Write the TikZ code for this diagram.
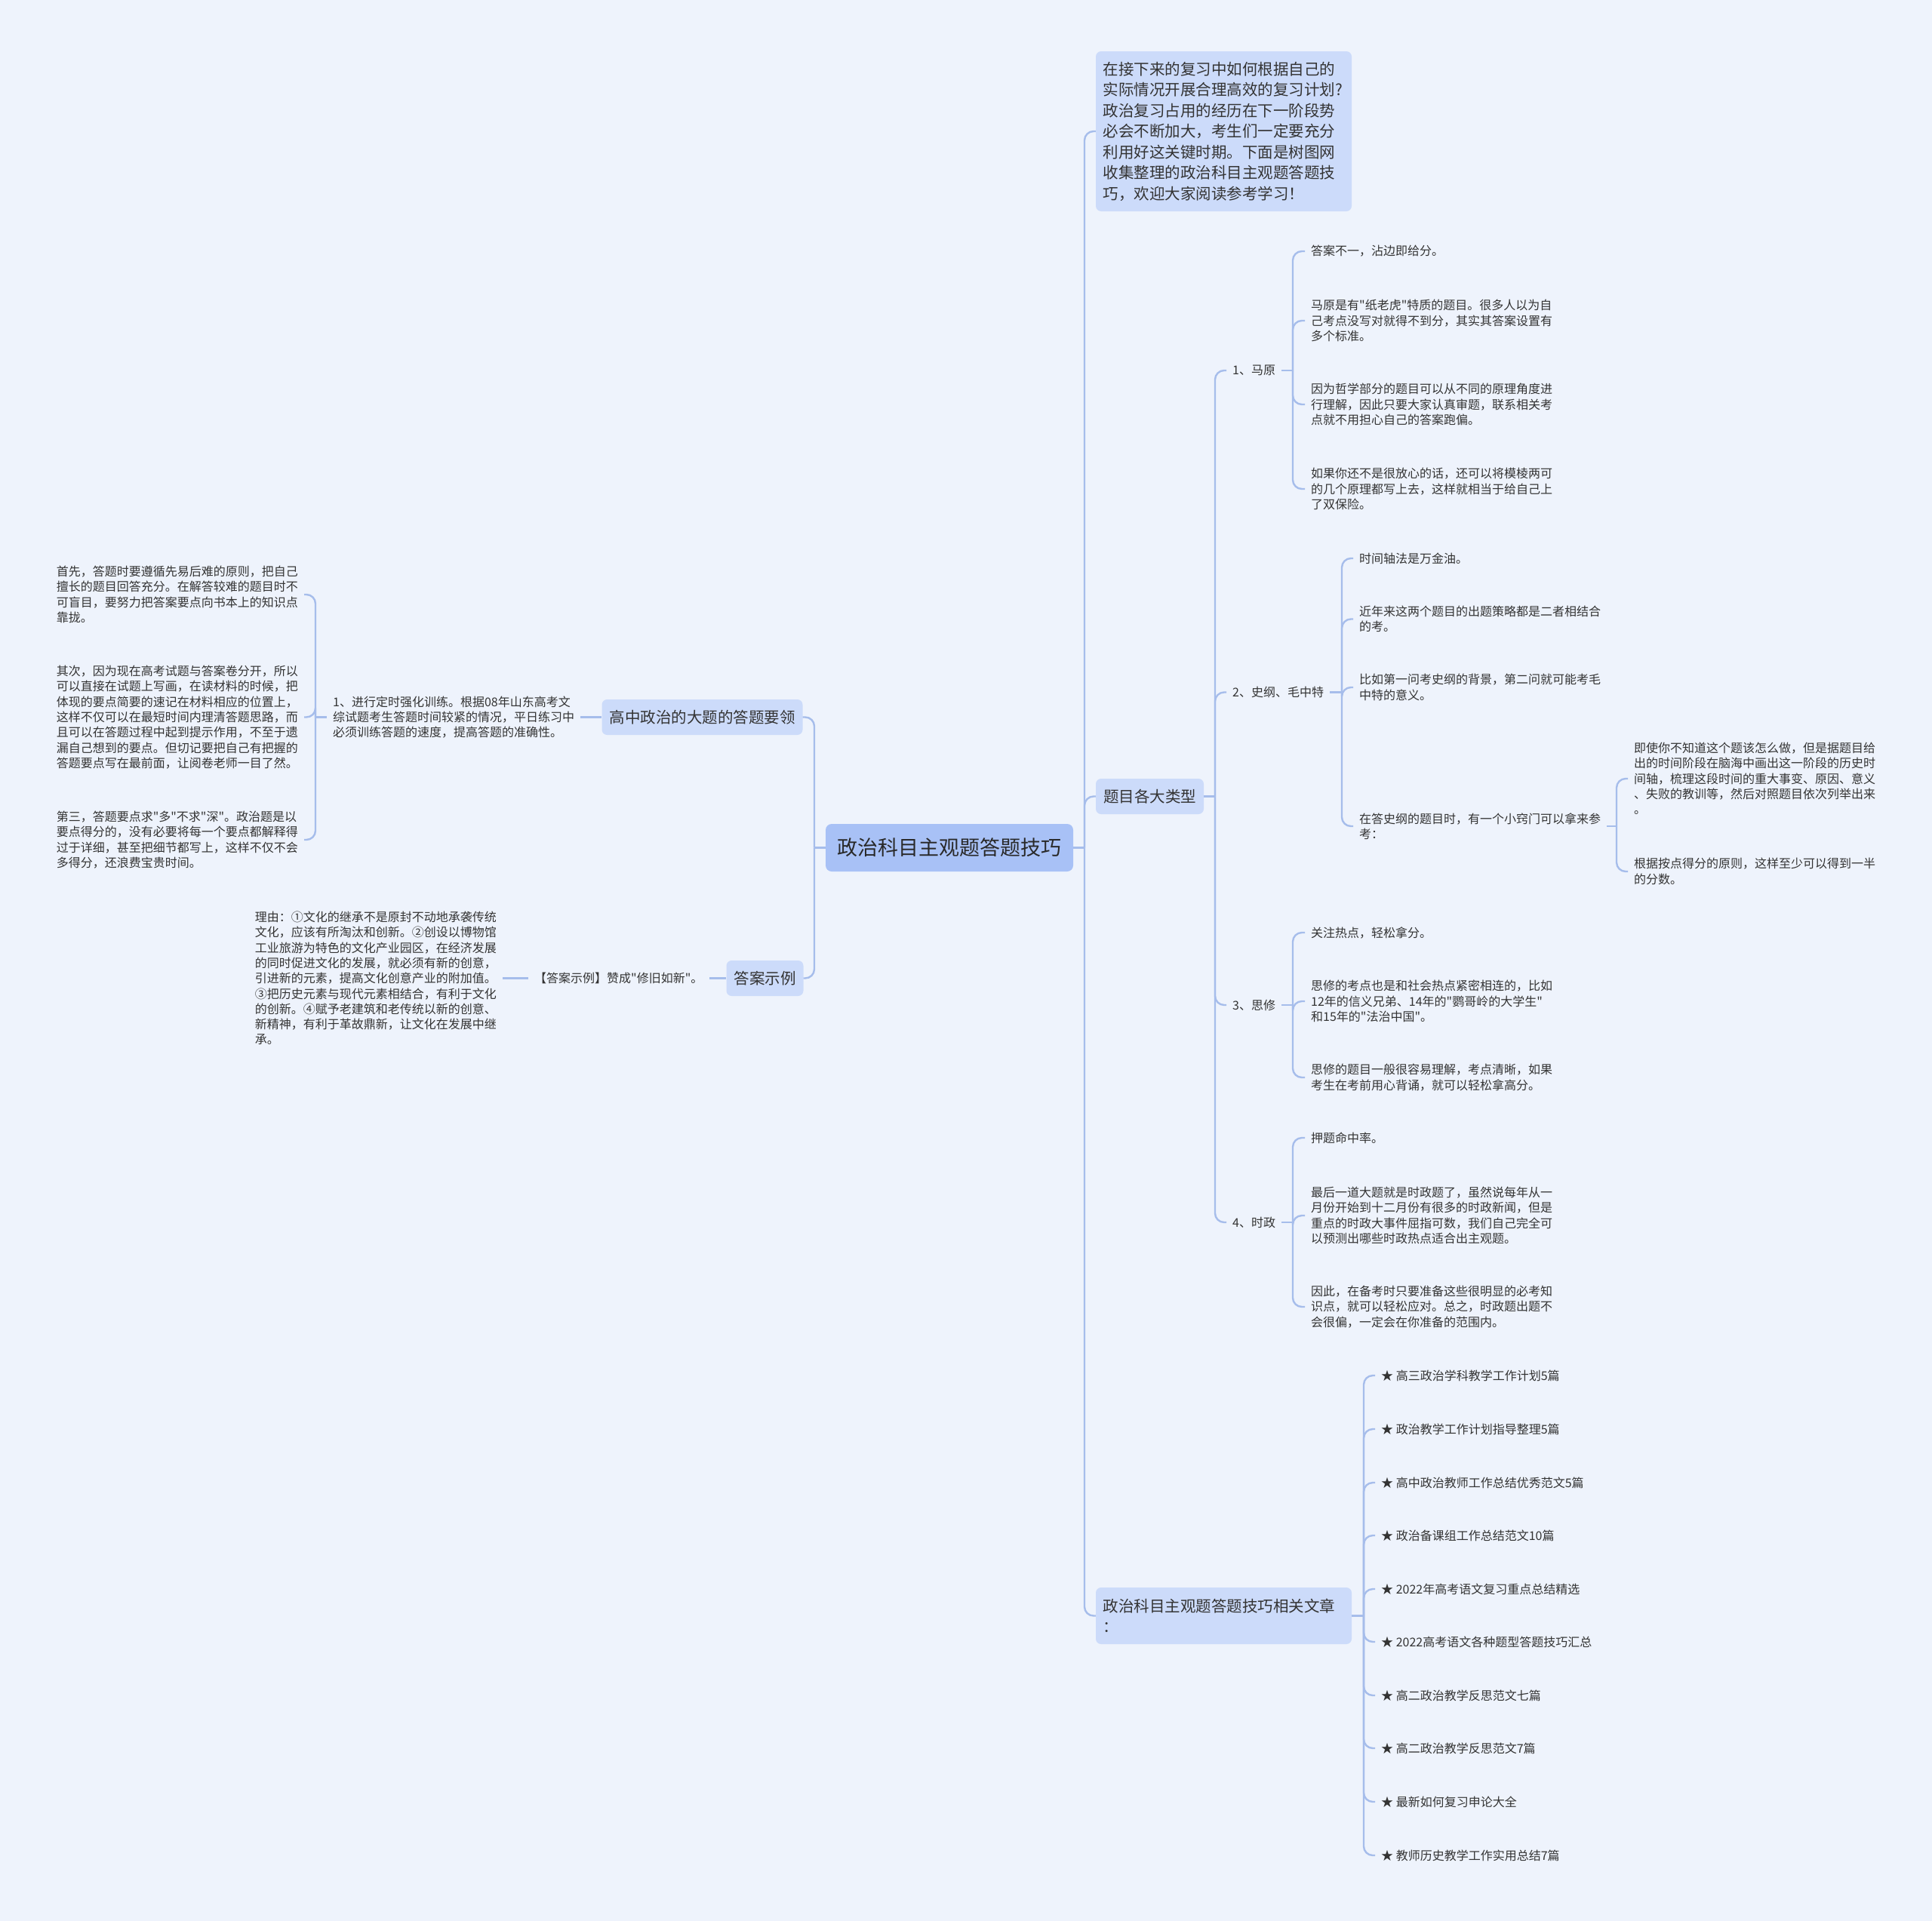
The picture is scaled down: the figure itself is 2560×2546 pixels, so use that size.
\documentclass[tikz,border=0pt]{standalone}
\usepackage{fontspec}
\setmainfont{Noto Sans CJK SC}[Ligatures=TeXOff]
\definecolor{bgc}{HTML}{EEF3FC}
\definecolor{rootc}{HTML}{A8C1F6}
\definecolor{lvc}{HTML}{CCDBFA}
\definecolor{linec}{HTML}{A6BDEB}
\definecolor{textc}{HTML}{333333}
\newcommand\fsS{\fontsize{16pt}{20.3pt}\selectfont}
\newcommand\fsM{\fontsize{20.5pt}{27.5pt}\selectfont}
\newcommand\fsL{\fontsize{27pt}{32pt}\selectfont}
\begin{document}
\begin{tikzpicture}[x=1pt,y=-1pt,
  conn/.style={draw=linec,line width=2.4pt,rounded corners=12pt},
  txt/.style={align=left,inner xsep=8pt,inner ysep=2pt,font=\fsS,text=textc},
  rtxt/.style={txt,anchor=west},
  ltxt/.style={txt,anchor=east},
  lvlbox/.style={fill=lvc,rounded corners=7pt,font=\fsM,text=textc,inner xsep=10pt,minimum height=47pt,anchor=center},
  rootbox/.style={fill=rootc,rounded corners=8pt,font=\fsL,text=textc!80!black,minimum width=328pt,minimum height=63pt,anchor=center},
  bigbox/.style={fill=lvc,rounded corners=7pt,font=\fsM,text=textc,inner xsep=9.5pt,text width=320pt,align=left,anchor=center}
]
\fill[bgc] (0,0) rectangle (2560,2546);
\useasboundingbox (0,0) rectangle (2560,2546);

% root
\node[rootbox] (root) at (1258,1123.5) {政治科目主观题答题技巧};

% right level 1
\node[bigbox,minimum height=212pt] (intro) at (1621.5,174) {在接下来的复习中如何根据自己的\\实际情况开展合理高效的复习计划?\\政治复习占用的经历在下一阶段势\\必会不断加大，考生们一定要充分\\利用好这关键时期。下面是树图网\\收集整理的政治科目主观题答题技\\巧，欢迎大家阅读参考学习！};
\node[lvlbox] (types) at (1523.5,1055.5) {题目各大类型};
\node[bigbox,minimum height=75pt] (rel) at (1621.5,2141.5) {政治科目主观题答题技巧相关文章\\：};

% left level 1
\node[lvlbox] (high) at (930.5,950.5) {高中政治的大题的答题要领};
\node[lvlbox] (ans) at (1013.5,1296.5) {答案示例};

% coordinates of brackets
\coordinate (bR) at (1437,1123.5);
\coordinate (bL) at (1079,1123.5);
\coordinate (bT) at (1610,1055.5);
\coordinate (bM1) at (1713,491);
\coordinate (bM2) at (1778,917.5);
\coordinate (bM3) at (1713,1332);
\coordinate (bM4) at (1713,1620);
\coordinate (bC24) at (2142,1095);
\coordinate (bRel) at (1807,2141.5);
\coordinate (bT1) at (418,950.5);

% left side nodes
\node[rtxt] (t1) at (433,950.5) {1、进行定时强化训练。根据08年山东高考文\\综试题考生答题时间较紧的情况，平日练习中\\必须训练答题的速度，提高答题的准确性。};
\node[ltxt] (s1) at (403,788) {首先，答题时要遵循先易后难的原则，把自己\\擅长的题目回答充分。在解答较难的题目时不\\可盲目，要努力把答案要点向书本上的知识点\\靠拢。};
\node[ltxt] (s2) at (403,950.5) {其次，因为现在高考试题与答案卷分开，所以\\可以直接在试题上写画，在读材料的时候，把\\体现的要点简要的速记在材料相应的位置上，\\这样不仅可以在最短时间内理清答题思路，而\\且可以在答题过程中起到提示作用，不至于遗\\漏自己想到的要点。但切记要把自己有把握的\\答题要点写在最前面，让阅卷老师一目了然。};
\node[ltxt] (s3) at (403,1113) {第三，答题要点求"多"不求"深"。政治题是以\\要点得分的，没有必要将每一个要点都解释得\\过于详细，甚至把细节都写上，这样不仅不会\\多得分，还浪费宝贵时间。};
\node[rtxt] (a1) at (700,1296.5) {【答案示例】赞成"修旧如新"。};
\node[ltxt] (a2) at (666,1296.5) {理由：①文化的继承不是原封不动地承袭传统\\文化，应该有所淘汰和创新。②创设以博物馆\\工业旅游为特色的文化产业园区，在经济发展\\的同时促进文化的发展，就必须有新的创意，\\引进新的元素，提高文化创意产业的附加值。\\③把历史元素与现代元素相结合，有利于文化\\的创新。④赋予老建筑和老传统以新的创意、\\新精神，有利于革故鼎新，让文化在发展中继\\承。};

% right: types
\node[rtxt] (m1) at (1625,491) {1、马原};
\node[rtxt] (m2) at (1625,917.5) {2、史纲、毛中特};
\node[rtxt] (m3) at (1625,1332) {3、思修};
\node[rtxt] (m4) at (1625,1620) {4、时政};

\node[rtxt] (c11) at (1729,333) {答案不一，沾边即给分。};
\node[rtxt] (c12) at (1729,425) {马原是有"纸老虎"特质的题目。很多人以为自\\己考点没写对就得不到分，其实其答案设置有\\多个标准。};
\node[rtxt] (c13) at (1729,536) {因为哲学部分的题目可以从不同的原理角度进\\行理解，因此只要大家认真审题，联系相关考\\点就不用担心自己的答案跑偏。};
\node[rtxt] (c14) at (1729,648) {如果你还不是很放心的话，还可以将模棱两可\\的几个原理都写上去，这样就相当于给自己上\\了双保险。};

\node[rtxt] (c21) at (1793,740) {时间轴法是万金油。};
\node[rtxt] (c22) at (1793,820.5) {近年来这两个题目的出题策略都是二者相结合\\的考。};
\node[rtxt] (c23) at (1793,911) {比如第一问考史纲的背景，第二问就可能考毛\\中特的意义。};
\node[rtxt] (c24) at (1793,1095) {在答史纲的题目时，有一个小窍门可以拿来参\\考：};
\node[rtxt] (c241) at (2157,1032) {即使你不知道这个题该怎么做，但是据题目给\\出的时间阶段在脑海中画出这一阶段的历史时\\间轴，梳理这段时间的重大事变、原因、意义\\、失败的教训等，然后对照题目依次列举出来\\。};
\node[rtxt] (c242) at (2157,1155) {根据按点得分的原则，这样至少可以得到一半\\的分数。};

\node[rtxt] (c31) at (1729,1236) {关注热点，轻松拿分。};
\node[rtxt] (c32) at (1729,1327) {思修的考点也是和社会热点紧密相连的，比如\\12年的信义兄弟、14年的"鹦哥岭的大学生"\\和15年的"法治中国"。};
\node[rtxt] (c33) at (1729,1428) {思修的题目一般很容易理解，考点清晰，如果\\考生在考前用心背诵，就可以轻松拿高分。};

\node[rtxt] (c41) at (1729,1508) {押题命中率。};
\node[rtxt] (c42) at (1729,1611) {最后一道大题就是时政题了，虽然说每年从一\\月份开始到十二月份有很多的时政新闻，但是\\重点的时政大事件屈指可数，我们自己完全可\\以预测出哪些时政热点适合出主观题。};
\node[rtxt] (c43) at (1729,1732) {因此，在备考时只要准备这些很明显的必考知\\识点，就可以轻松应对。总之，时政题出题不\\会很偏，一定会在你准备的范围内。};

% related items
\node[rtxt] (r1) at (1822,1823) {★ 高三政治学科教学工作计划5篇};
\node[rtxt] (r2) at (1822,1894) {★ 政治教学工作计划指导整理5篇};
\node[rtxt] (r3) at (1822,1965) {★ 高中政治教师工作总结优秀范文5篇};
\node[rtxt] (r4) at (1822,2035) {★ 政治备课组工作总结范文10篇};
\node[rtxt] (r5) at (1822,2106) {★ 2022年高考语文复习重点总结精选};
\node[rtxt] (r6) at (1822,2176) {★ 2022高考语文各种题型答题技巧汇总};
\node[rtxt] (r7) at (1822,2247) {★ 高二政治教学反思范文七篇};
\node[rtxt] (r8) at (1822,2317) {★ 高二政治教学反思范文7篇};
\node[rtxt] (r9) at (1822,2388) {★ 最新如何复习申论大全};
\node[rtxt] (r10) at (1822,2459) {★ 教师历史教学工作实用总结7篇};

% connectors
\draw[conn] (root.east) -- (bR);
\foreach \c in {intro,types,rel} \draw[conn] (bR) |- (\c.west);
\draw[conn] (root.west) -- (bL);
\foreach \c in {high,ans} \draw[conn] (bL) |- (\c.east);

\draw[conn] (high.west) -- (t1.east);
\draw[conn] (t1.west) -- (bT1);
\foreach \c in {s1,s2,s3} \draw[conn] (bT1) |- (\c.east);
\draw[conn] (ans.west) -- (a1.east);
\draw[conn] (a1.west) -- (a2.east);

\draw[conn] (types.east) -- (bT);
\foreach \c in {m1,m2,m3,m4} \draw[conn] (bT) |- (\c.west);
\draw[conn] (m1.east) -- (bM1);
\foreach \c in {c11,c12,c13,c14} \draw[conn] (bM1) |- (\c.west);
\draw[conn] (m2.east) -- (bM2);
\foreach \c in {c21,c22,c23,c24} \draw[conn] (bM2) |- (\c.west);
\draw[conn] (c24.east) -- (bC24);
\foreach \c in {c241,c242} \draw[conn] (bC24) |- (\c.west);
\draw[conn] (m3.east) -- (bM3);
\foreach \c in {c31,c32,c33} \draw[conn] (bM3) |- (\c.west);
\draw[conn] (m4.east) -- (bM4);
\foreach \c in {c41,c42,c43} \draw[conn] (bM4) |- (\c.west);

\draw[conn] (rel.east) -- (bRel);
\foreach \c in {r1,r2,r3,r4,r5,r6,r7,r8,r9,r10} \draw[conn] (bRel) |- (\c.west);
\end{tikzpicture}
\end{document}
